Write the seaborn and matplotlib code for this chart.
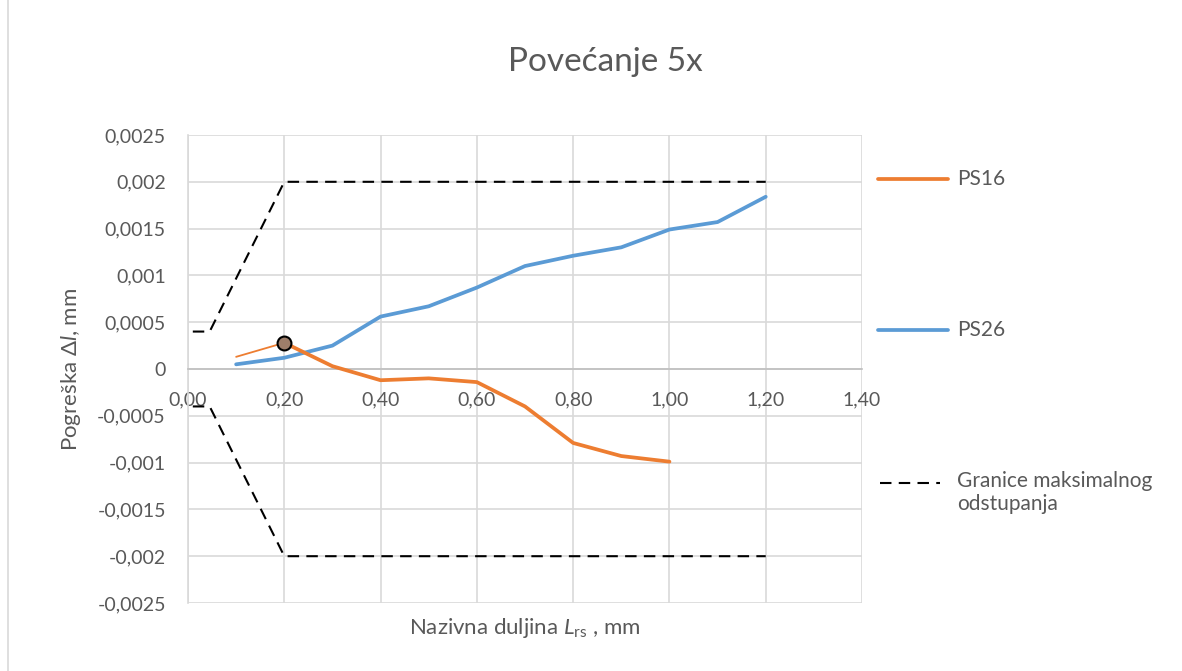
import matplotlib
matplotlib.use("Agg")
import matplotlib.pyplot as plt
import seaborn as sns
import numpy as np
import pandas as pd
from matplotlib.lines import Line2D
from matplotlib.ticker import FixedLocator

# ---- data ----
x_ps26 = [0.1, 0.2, 0.3, 0.4, 0.5, 0.6, 0.7, 0.8, 0.9, 1.0, 1.1, 1.2]
y_ps26 = [0.00005, 0.00012, 0.00025, 0.00056, 0.00067, 0.00087, 0.0011, 0.00121, 0.0013, 0.00149, 0.00157, 0.00184]

x_ps16 = [0.2, 0.3, 0.4, 0.5, 0.6, 0.7, 0.8, 0.9, 1.0]
y_ps16 = [0.00028, 0.00003, -0.00012, -0.0001, -0.00014, -0.0004, -0.00079, -0.00093, -0.00099]

x_ps16_thin = [0.1, 0.2]
y_ps16_thin = [0.00013, 0.00028]

x_lim = [0.01, 0.045, 0.2, 1.2]
y_upper = [0.0004, 0.0004, 0.002, 0.002]
y_lower = [-0.0004, -0.0004, -0.002, -0.002]

x_ticks = [0.0, 0.2, 0.4, 0.6, 0.8, 1.0, 1.2, 1.4]
y_ticks = [-0.0025, -0.002, -0.0015, -0.001, -0.0005, 0, 0.0005, 0.001, 0.0015, 0.002, 0.0025]
y_tick_labels = ["-0,0025", "-0,002", "-0,0015", "-0,001", "-0,0005", "0", "0,0005", "0,001", "0,0015", "0,002", "0,0025"]

title = "Povećanje 5x"
series_names = ["PS16", "PS26", "Granice maksimalnog\nodstupanja"]

# ---- style ----
sns.set_theme(style="white")
FONT = ["Lato", "DejaVu Sans"]
plt.rcParams["font.family"] = FONT
plt.rcParams["mathtext.fontset"] = "custom"
plt.rcParams["mathtext.rm"] = "Lato"
plt.rcParams["mathtext.it"] = "Lato:italic"

TXT = "#595959"
GRID = "#d9d9d9"
ORANGE = "#ED7D31"
BLUE = "#5B9BD5"
DASH = (0, (5.5, 3.5))
LW = 2.7

fig = plt.figure(figsize=(11.82, 6.71), dpi=100)
ax = fig.add_axes([188/1182, 1-603/671, (862-188)/1182, (603-135)/671])

# dashed limits
sns.lineplot(x=x_lim, y=y_upper, ax=ax, color="black", linewidth=1.5, linestyle=DASH, sort=False, zorder=3)
sns.lineplot(x=x_lim, y=y_lower, ax=ax, color="black", linewidth=1.5, linestyle=DASH, sort=False, zorder=3)

sns.lineplot(x=x_ps26, y=y_ps26, ax=ax, color=BLUE, linewidth=LW, zorder=4)
sns.lineplot(x=x_ps16, y=y_ps16, ax=ax, color=ORANGE, linewidth=LW, zorder=5)
sns.lineplot(x=x_ps16_thin, y=y_ps16_thin, ax=ax, color=ORANGE, linewidth=1.3, zorder=5)
ax.plot([x_ps16[0]], [y_ps16[0]], marker="o", markersize=10, markerfacecolor="#9e7e6a",
        markeredgecolor="black", markeredgewidth=1.5, zorder=6, linestyle="none")

ax.set_xlim(0, 1.4)
ax.set_ylim(-0.0025, 0.0025)
ax.xaxis.set_major_locator(FixedLocator(x_ticks))
ax.yaxis.set_major_locator(FixedLocator(y_ticks))
ax.set_xticklabels([f"{v:.2f}".replace(".", ",") for v in x_ticks])
ax.set_yticklabels(y_tick_labels)
ax.grid(True, color=GRID, linewidth=1.2)
ax.set_axisbelow(True)

for s in ["top", "right"]:
    ax.spines[s].set_visible(False)
ax.spines["left"].set_color(GRID)
ax.spines["left"].set_linewidth(1.2)
ax.spines["bottom"].set_position(("data", 0))
ax.spines["bottom"].set_color("#bfbfbf")
ax.spines["bottom"].set_linewidth(1.2)
ax.tick_params(axis="both", length=0, labelsize=14, labelcolor=TXT)
ax.tick_params(axis="x", pad=16)
ax.tick_params(axis="y", pad=16)
for lab in ax.get_xticklabels() + ax.get_yticklabels():
    lab.set_fontfamily(FONT)

ax.set_xlabel("")
ax.set_ylabel(r"Pogreška $\mathit{\Delta l}$, mm", fontsize=16, color=TXT, labelpad=10)

fig.text(525/1182, 1-628/671, r"Nazivna duljina $\mathit{L}_{\mathrm{rs}}$ , mm", fontsize=16,
         color=TXT, ha="center", va="center")
fig.text(605/1182, 1-62/671, title, fontsize=24, color=TXT, ha="center", va="center")

# legend (manual, figure coordinates)
def fy(p):
    return 1 - p/671
fig.add_artist(Line2D([878/1182, 948/1182], [fy(179), fy(179)], color=ORANGE, linewidth=LW, solid_capstyle="round"))
fig.add_artist(Line2D([878/1182, 948/1182], [fy(330), fy(330)], color=BLUE, linewidth=LW, solid_capstyle="round"))
fig.add_artist(Line2D([880/1182, 940/1182], [fy(483), fy(483)], color="black", linewidth=1.5, linestyle=DASH))
fig.text(957/1182, fy(179), series_names[0], fontsize=15, color=TXT, va="center")
fig.text(957/1182, fy(330), series_names[1], fontsize=15, color=TXT, va="center")
fig.text(957/1182, fy(471), series_names[2], fontsize=15, color=TXT, va="top", linespacing=1.2)

# left frame line
fig.add_artist(Line2D([8/1182, 8/1182], [0, 1], color="#d9d9d9", linewidth=1.2))

fig.savefig("out.png", dpi=100)
